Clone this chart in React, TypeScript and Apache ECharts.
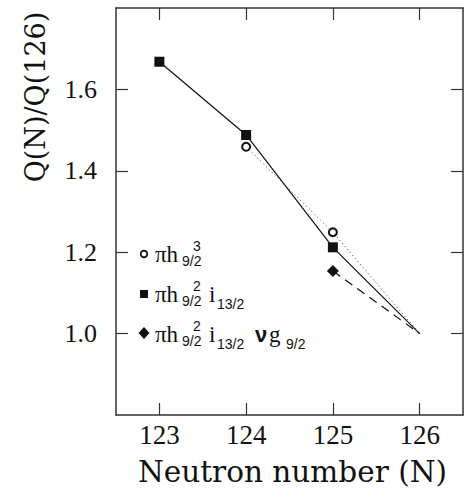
import { useEffect, useRef } from "react";
import * as echarts from "echarts";

const neutronTicks = [123, 124, 125, 126];
const ratioTicks = [1.0, 1.2, 1.4, 1.6];
const squareN = [123, 124, 125, 126];
const squareQ = [1.668, 1.488, 1.212, 1.0];
const circleN = [124, 125, 126];
const circleQ = [1.459, 1.249, 1.0];
const diamondN = [125, 126];
const diamondQ = [1.154, 1.0];

const INK = "#111";
const FRAME = "#333";

const SERIF = "Liberation Serif";
const WIDE_SERIF = "DejaVu Serif";
const SANS = "Liberation Sans";

function buildData(ns: number[], qs: number[]) {
  return ns.map((n, i) =>
    i === ns.length - 1 ? { value: [n, qs[i]], symbol: "none" } : { value: [n, qs[i]] }
  );
}

function txt(text: string, x: number, y: number, size: number, family: string, extra: any = {}) {
  return {
    type: "text",
    x,
    y,
    silent: true,
    ...(extra.rotation !== undefined ? { rotation: extra.rotation } : {}),
    style: {
      text,
      fill: INK,
      fontSize: size,
      fontFamily: family,
      fontWeight: extra.weight || "normal",
      align: extra.align || "left",
      verticalAlign: "middle",
    },
  };
}

function legendRow(y: number, sup: string, withI: boolean, withNu: boolean) {
  const items: any[] = [
    txt("πh", 155, y, 23, SERIF),
    txt(sup, 193, y - 8.5, 14, SANS),
    txt("9/2", 182, y + 6.5, 14, SANS),
  ];
  if (withI) {
    items.push(txt("i", 209, y, 23, SERIF));
    items.push(txt("13/2", 217, y + 9.5, 14, SANS));
  }
  if (withNu) {
    items.push(txt("ν", 255, y, 22, SANS, { weight: "bold" }));
    items.push(txt("g", 269, y, 23, SERIF));
    items.push(txt("9/2", 286, y + 9.5, 14, SANS));
  }
  return items;
}

export default function App() {
  const ref = useRef<HTMLDivElement>(null);
  useEffect(() => {
    if (!ref.current) return;
    const chart = echarts.init(ref.current, undefined, { renderer: "svg" });
    const axisCommon = {
      type: "value" as const,
      splitLine: { show: false },
      axisLine: { show: true, onZero: false, lineStyle: { color: FRAME, width: 1.5 } },
    };
    const tick = (vals: number[]) => ({
      show: true,
      inside: true,
      length: 12,
      customValues: vals,
      lineStyle: { color: FRAME, width: 1.2 },
    });
    chart.setOption({
      animation: false,
      backgroundColor: "#fff",
      textStyle: { fontFamily: SERIF },
      grid: { left: 116, top: 8, right: 1, bottom: 85, containLabel: false },
      xAxis: [
        {
          ...axisCommon,
          position: "bottom",
          min: 122.5,
          max: 126.5,
          axisTick: tick(neutronTicks),
          axisLabel: {
            show: true,
            customValues: neutronTicks,
            margin: 6,
            fontFamily: SERIF,
            fontSize: 27,
            color: INK,
            formatter: (v: number) => String(v),
          },
          name: "Neutron number (N)",
          nameLocation: "middle",
          nameGap: 42,
          nameTextStyle: { fontFamily: WIDE_SERIF, fontSize: 29.5, color: INK, verticalAlign: "top", padding: [0, 0, 0, 6] },
        },
        {
          ...axisCommon,
          position: "top",
          min: 122.5,
          max: 126.5,
          axisTick: tick(neutronTicks),
          axisLabel: { show: false },
        },
      ],
      yAxis: [
        {
          ...axisCommon,
          position: "left",
          min: 0.8,
          max: 1.8,
          axisTick: tick(ratioTicks),
          axisLabel: {
            show: true,
            customValues: ratioTicks,
            margin: 19,
            fontFamily: SERIF,
            fontSize: 26,
            color: INK,
            formatter: (v: number) => v.toFixed(1),
          },
        },
        {
          ...axisCommon,
          position: "right",
          min: 0.8,
          max: 1.8,
          axisTick: tick(ratioTicks),
          axisLabel: { show: false },
        },
      ],
      series: [
        {
          name: "πh9/2^3",
          type: "line",
          data: buildData(circleN, circleQ),
          symbol: "circle",
          symbolSize: 8,
          itemStyle: { color: "#fff", borderColor: INK, borderWidth: 2 },
          lineStyle: { color: "#333", width: 1, type: [1, 3] },
          z: 3,
        },
        {
          name: "πh9/2^2 i13/2",
          type: "line",
          data: buildData(squareN, squareQ),
          symbol: "rect",
          symbolSize: 10,
          itemStyle: { color: INK, borderWidth: 0 },
          lineStyle: { color: INK, width: 1.2, type: "solid" },
          z: 4,
        },
        {
          name: "πh9/2^2 i13/2 νg9/2",
          type: "line",
          data: buildData(diamondN, diamondQ),
          symbol: "diamond",
          symbolSize: 12,
          itemStyle: { color: INK, borderWidth: 0 },
          lineStyle: { color: INK, width: 1.2, type: [9, 6] },
          z: 3,
        },
      ],
      graphic: [
        txt("Q(N)/Q(126)", 35, 97, 27, WIDE_SERIF, { align: "center", rotation: Math.PI / 2 }),
        { type: "circle", shape: { cx: 144, cy: 254, r: 3.3 }, style: { fill: "#fff", stroke: INK, lineWidth: 1.8 }, silent: true },
        { type: "rect", shape: { x: 140, y: 290, width: 8, height: 8 }, style: { fill: INK }, silent: true },
        { type: "polygon", shape: { points: [[144, 327], [149.5, 333], [144, 339], [138.5, 333]] }, style: { fill: INK }, silent: true },
        ...legendRow(254, "3", false, false),
        ...legendRow(294, "2", true, false),
        ...legendRow(334, "2", true, true),
      ],
    });
    return () => chart.dispose();
  }, []);
  return <div ref={ref} style={{ width: 464, height: 500, position: "absolute", left: 0, top: 0 }} />;
}
